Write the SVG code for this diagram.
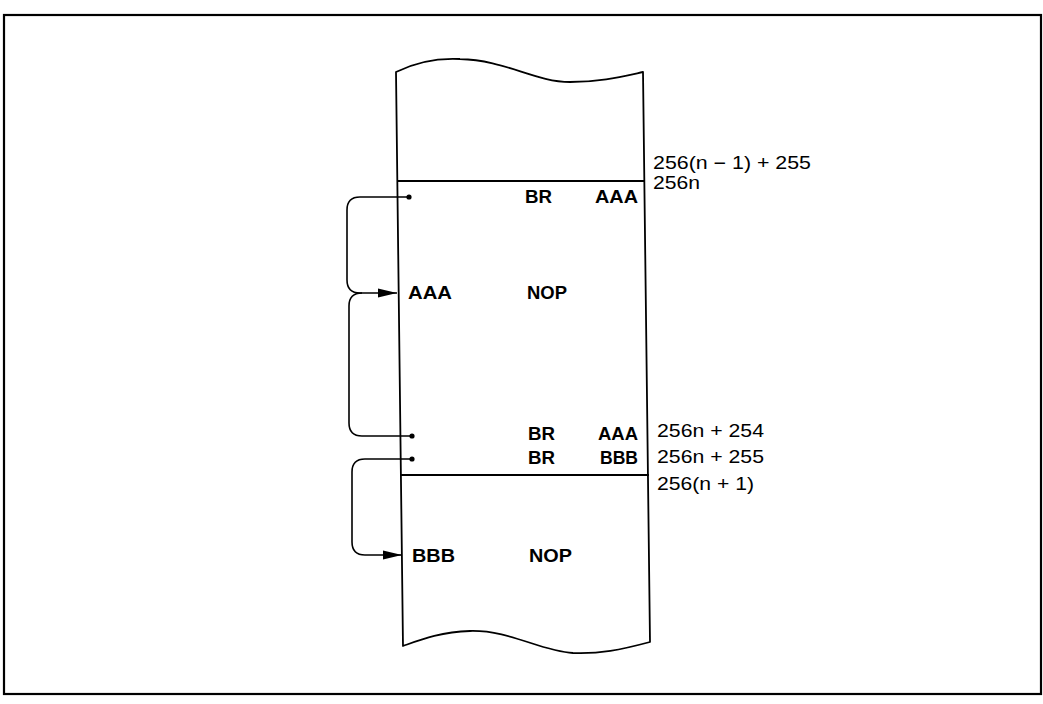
<svg xmlns="http://www.w3.org/2000/svg" width="1043" height="704" viewBox="0 0 1043 704">
<style>
.line{fill:none;stroke:#000;stroke-width:1.8;stroke-linejoin:round}
.frame{fill:none;stroke:#000;stroke-width:2.2}
.conn{fill:none;stroke:#000;stroke-width:1.6}
.in{font-family:"Liberation Sans",Arial,Helvetica,sans-serif;font-size:19px;font-weight:bold;fill:#000}
.addr{font-family:"Liberation Sans",Arial,Helvetica,sans-serif;font-size:18px;fill:#000}
</style>
<defs>
<marker id="arr" markerUnits="userSpaceOnUse" markerWidth="20" markerHeight="12" refX="19" refY="6" orient="auto">
<path d="M0,1.5 L19,6 L0,10.5 Z" fill="#000"/>
</marker>
</defs>
<rect width="1043" height="704" fill="#fff"/>
<rect class="frame" x="4" y="15" width="1037" height="679"/>
<g id="memory">
<path class="line" d="M396,72 C420,60 440,58 460,59 C505,60 535,82 570,82 C600,82 620,77 643,72 L650,642 C620,650 600,654 573,653 C540,651 510,630 470,631 C440,632 420,640 403,646 L396,72 Z"/>
<line class="line" x1="397" y1="181" x2="644" y2="181"/>
<line class="line" x1="401" y1="475" x2="649" y2="475"/>
</g>
<g id="labels-in">
<text class="in" x="525" y="203" textLength="27" lengthAdjust="spacingAndGlyphs">BR</text>
<text class="in" x="595" y="203" textLength="43" lengthAdjust="spacingAndGlyphs">AAA</text>
<text class="in" x="408" y="299" textLength="44" lengthAdjust="spacingAndGlyphs">AAA</text>
<text class="in" x="527" y="299" textLength="40" lengthAdjust="spacingAndGlyphs">NOP</text>
<text class="in" x="528" y="440" textLength="27" lengthAdjust="spacingAndGlyphs">BR</text>
<text class="in" x="598" y="440" textLength="40" lengthAdjust="spacingAndGlyphs">AAA</text>
<text class="in" x="528" y="464" textLength="27" lengthAdjust="spacingAndGlyphs">BR</text>
<text class="in" x="600" y="464" textLength="38" lengthAdjust="spacingAndGlyphs">BBB</text>
<text class="in" x="412" y="562" textLength="43" lengthAdjust="spacingAndGlyphs">BBB</text>
<text class="in" x="529" y="562" textLength="43" lengthAdjust="spacingAndGlyphs">NOP</text>
</g>
<g id="labels-addr">
<text class="addr" x="653" y="169" textLength="158" lengthAdjust="spacingAndGlyphs">256(n − 1) + 255</text>
<text class="addr" x="653" y="189" textLength="47" lengthAdjust="spacingAndGlyphs">256n</text>
<text class="addr" x="657" y="437" textLength="107" lengthAdjust="spacingAndGlyphs">256n + 254</text>
<text class="addr" x="657" y="463" textLength="107" lengthAdjust="spacingAndGlyphs">256n + 255</text>
<text class="addr" x="657" y="490" textLength="97" lengthAdjust="spacingAndGlyphs">256(n + 1)</text>
</g>
<g id="connectors">
<circle cx="409" cy="197" r="2.6"/>
<circle cx="412" cy="436" r="2.6"/>
<circle cx="412" cy="459" r="2.6"/>
<path class="conn" d="M409,197 H360 Q347,197 347,210 V280 Q347,293 360,293 H397" marker-end="url(#arr)"/>
<path class="conn" d="M412,436 H362 Q349,436 349,423 V306 Q349,293 362,293"/>
<path class="conn" d="M412,459 H365 Q352,459 352,472 V542 Q352,555 365,555 H402" marker-end="url(#arr)"/>
</g>
</svg>
